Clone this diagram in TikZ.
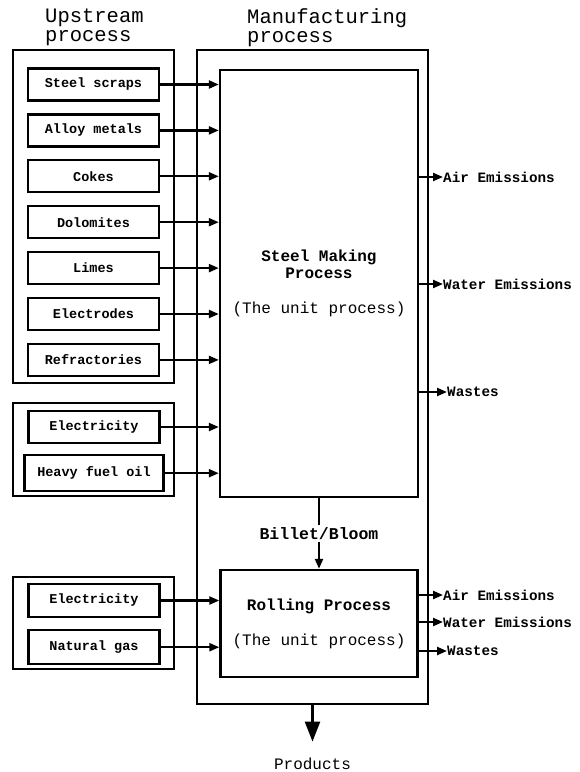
\documentclass[tikz,border=0pt]{standalone}
\usepackage{fontspec}
\setmonofont{Liberation Mono}
\usetikzlibrary{arrows.meta,positioning}

\begin{document}
\begin{tikzpicture}[
    x=1pt, y=-1pt,
    node distance=11.7pt,
    input/.style={draw, rectangle, line width=2.2pt, minimum width=131pt, minimum height=32pt, inner sep=0pt, font=\ttfamily\bfseries\fontsize{13.5}{16}\selectfont},
    group/.style={draw, line width=2pt},
    unit/.style={draw, rectangle, line width=2.4pt, align=center, inner sep=0pt, font=\ttfamily\bfseries\fontsize{16}{17}\selectfont},
    heading/.style={anchor=north west, align=left, inner sep=0pt, font=\ttfamily\fontsize{20.5}{19}\selectfont},
    release/.style={anchor=west, inner sep=0pt, font=\ttfamily\bfseries\fontsize{14.3}{16}\selectfont},
    arrow/.style={-{Triangle[length=10pt,width=8pt]}, line width=2.2pt}
]
\useasboundingbox (0,0) rectangle (580,772);

% headings
\node[heading] (uphead) at (45,8.5) {Upstream\\process};
\node[heading] (mfghead) at (247,8.5) {Manufacturing\\process};

% upstream materials
\draw[group] (13,50) rectangle (174,383);
\node[input] (scrap) at (93.5,84.5) {Steel scraps};
\node[input, below=of scrap] (alloy) {Alloy metals};
\node[input, below=of alloy] (coke) {Cokes};
\node[input, below=of coke] (dolo) {Dolomites};
\node[input, below=of dolo] (lime) {Limes};
\node[input, below=of lime] (electrode) {Electrodes};
\node[input, below=of electrode] (refract) {Refractories};

% upstream energy
\draw[group] (13,403) rectangle (174,496);
\node[input] (power) at (94,427) {Electricity};
\node[input, minimum width=139pt, minimum height=36pt, below=10pt of power] (oil) {Heavy fuel oil};
\draw[group] (13,577) rectangle (174,669);
\node[input, minimum height=33pt] (rpower) at (94,600.5) {Electricity};
\node[input, minimum height=34pt, below=11pt of rpower] (gas) {Natural gas};

% manufacturing process
\node[draw, line width=2.2pt, minimum width=231pt, minimum height=654pt, inner sep=0pt] (mfg) at (312.5,377) {};
\node[unit, minimum width=198pt, minimum height=427pt] (steel) at (319,283.5) {Steel Making\\Process\\[18pt]{\mdseries(The unit process)}};
\node[unit, minimum width=197pt, minimum height=107pt] (roll) at (319,623.5) {Rolling Process\\[18pt]{\mdseries(The unit process)}};

% inputs
\foreach \src in {scrap,alloy,coke,dolo,lime,electrode,refract,power,oil}
  \draw[arrow] (\src.east) -- (\src.east -| steel.west);
\foreach \src in {rpower,gas}
  \draw[arrow] (\src.east) -- (\src.east -| roll.west);

% outputs
\node[release] (sair) at (443,177) {Air Emissions};
\node[release] (swater) at (443,284) {Water Emissions};
\node[release] (swaste) at (447,392) {Wastes};
\node[release] (rair) at (443,595) {Air Emissions};
\node[release] (rwater) at (443,622) {Water Emissions};
\node[release] (rwaste) at (447,651) {Wastes};
\foreach \out in {sair,swater,swaste}
  \draw[arrow] (steel.east |- \out.west) -- (\out.west);
\foreach \out in {rair,rwater,rwaste}
  \draw[arrow] (roll.east |- \out.west) -- (\out.west);

\draw[arrow] (steel.south) -- node[fill=white, inner sep=2pt, font=\ttfamily\bfseries\fontsize{16.5}{18}\selectfont] (billet) {Billet/Bloom} (roll.north);

% products
\node[font=\ttfamily\fontsize{16}{18}\selectfont] (prod) at (312.5,764) {Products};
\draw[-{Triangle[length=20pt,width=15pt]}, line width=2.5pt, shorten >=13pt] (mfg.south) -- (prod.north);
\end{tikzpicture}
\end{document}
